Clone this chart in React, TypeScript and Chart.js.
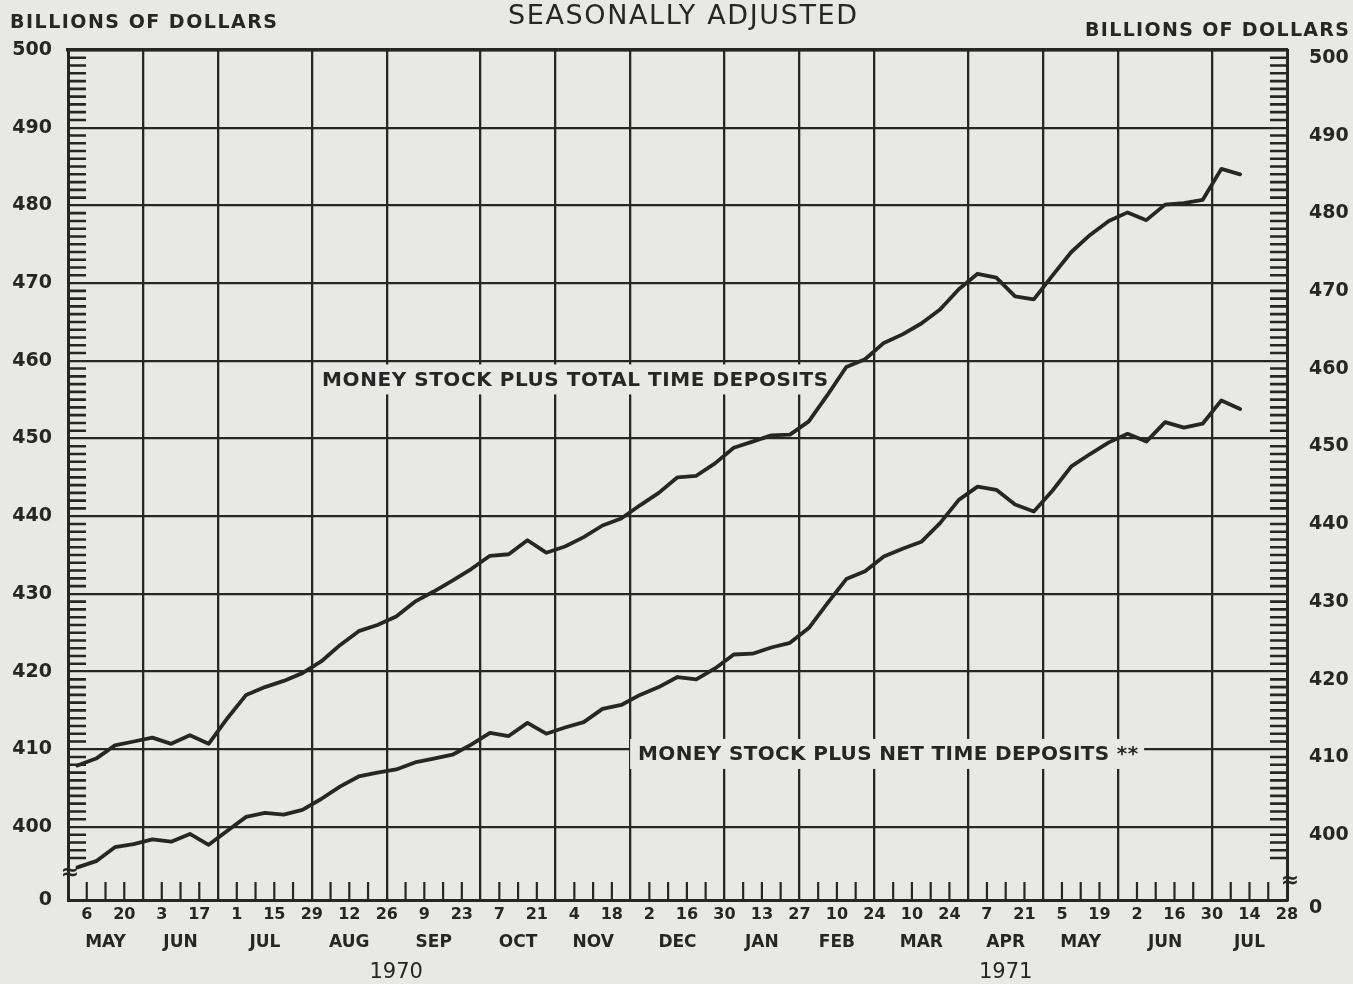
import React, { useEffect, useRef } from 'react';
import { Chart, registerables } from 'chart.js';

Chart.register(...registerables);

// ---------- data ----------
// week-ending dates (Wednesdays) from Apr 29 1970 to Jul 28 1971, one entry per axis week
const weekDayLabels = [
  '29', '6', '13', '20', '27', '3', '10', '17', '24', '1', '8', '15', '22', '29',
  '5', '12', '19', '26', '2', '9', '16', '23', '30', '7', '14', '21', '28',
  '4', '11', '18', '25', '2', '9', '16', '23', '30', '6', '13', '20', '27',
  '3', '10', '17', '24', '3', '10', '17', '24', '31', '7', '14', '21', '28',
  '5', '12', '19', '26', '2', '9', '16', '23', '30', '7', '14', '21', '28',
];
// index (into weekDayLabels) of the last week of each month: Apr 1970 ... Jul 1971
const monthEndWeeks = [0, 4, 8, 13, 17, 22, 26, 30, 35, 39, 43, 48, 52, 56, 61, 65];
const monthNames = ['MAY', 'JUN', 'JUL', 'AUG', 'SEP', 'OCT', 'NOV', 'DEC', 'JAN', 'FEB', 'MAR', 'APR', 'MAY', 'JUN', 'JUL'];
const yearNames = ['1970', '1971'];
const yearEndWeeks = [0, 35, 65];
const yTickValues = [400, 410, 420, 430, 440, 450, 460, 470, 480, 490, 500];
const BREAK_LABEL = '0';

const seriesNames = ['MONEY STOCK PLUS TOTAL TIME DEPOSITS', 'MONEY STOCK PLUS NET TIME DEPOSITS **'];

// billions of dollars, weekly averages
const totalTimeDeposits = [
  407.9, 408.8, 410.5, 411.0, 411.5, 410.7, 411.8, 410.7, 414.0, 417.0,
  418.0, 418.8, 419.8, 421.3, 423.4, 425.2, 426.0, 427.1, 429.0, 430.3,
  431.7, 433.2, 434.9, 435.1, 436.9, 435.3, 436.1, 437.3, 438.8, 439.7,
  441.4, 443.0, 445.0, 445.2, 446.8, 448.8, 449.6, 450.4, 450.5, 452.2,
  455.6, 459.2, 460.2, 462.3, 463.4, 464.8, 466.6, 469.2, 471.2, 470.7,
  468.3, 467.9, 471.0, 474.0, 476.2, 478.0, 479.1, 478.1, 480.1, 480.3,
  480.7, 484.7, 484.0,
];
const netTimeDeposits = [
  394.8, 395.6, 397.4, 397.8, 398.4, 398.1, 399.1, 397.7, 399.5, 401.3,
  401.8, 401.6, 402.2, 403.6, 405.2, 406.5, 407.0, 407.4, 408.3, 408.8,
  409.3, 410.6, 412.1, 411.7, 413.4, 412.0, 412.8, 413.5, 415.2, 415.7,
  417.0, 418.0, 419.3, 419.0, 420.4, 422.2, 422.3, 423.1, 423.7, 425.6,
  428.8, 431.9, 432.9, 434.8, 435.8, 436.7, 439.1, 442.1, 443.8, 443.4,
  441.5, 440.6, 443.3, 446.4, 448.0, 449.5, 450.6, 449.6, 452.1, 451.4,
  451.9, 454.9, 453.8,
];

// ---------- styling ----------
const BG = '#e8e8e6';
const INK = '#262626';
const FONT = '"DejaVu Sans", "Noto Sans", sans-serif';
const Y_MIN = 390.6; // broken axis: the bottom line stands for zero
const Y_MAX = 500;

const monthCenters = monthNames.map((_, i) => (monthEndWeeks[i] + monthEndWeeks[i + 1]) / 2);
const yearCenters = yearNames.map((_, i) => (yearEndWeeks[i] + yearEndWeeks[i + 1]) / 2);
const toPoints = (vals: number[]) => vals.map((v, i) => ({ x: i + 0.5, y: v }));

function drawFitted(ctx: CanvasRenderingContext2D, text: string, x: number, y: number, width: number, font: string) {
  ctx.font = font;
  (ctx as any).letterSpacing = '0px';
  const w0 = ctx.measureText(text).width;
  const sp = (width - w0) / Math.max(1, text.length - 1);
  (ctx as any).letterSpacing = sp + 'px';
  ctx.textAlign = 'left';
  ctx.textBaseline = 'middle';
  ctx.fillText(text, x, y);
  (ctx as any).letterSpacing = '0px';
}

const decorPlugin = {
  id: 'decor',
  beforeDraw(chart: any) {
    const { ctx, width, height } = chart;
    ctx.save();
    ctx.fillStyle = BG;
    ctx.fillRect(0, 0, width, height);
    ctx.restore();
  },
  beforeDatasetsDraw(chart: any) {
    const { ctx, chartArea: a, scales } = chart;
    const xs = scales.x;
    const ys = scales.y;
    ctx.save();
    ctx.strokeStyle = INK;
    ctx.lineWidth = 2.6;
    // unit ticks along left and right edges
    for (let v = 396; v < 500; v++) {
      if (v % 10 === 0) continue;
      const py = ys.getPixelForValue(v);
      ctx.beginPath();
      ctx.moveTo(a.left, py);
      ctx.lineTo(a.left + 18, py);
      ctx.moveTo(a.right - 17, py);
      ctx.lineTo(a.right, py);
      ctx.stroke();
    }
    // weekly ticks along the bottom
    ctx.lineWidth = 2.2;
    for (let i = 1; i < weekDayLabels.length - 1; i++) {
      if (monthEndWeeks.includes(i)) continue;
      const px = xs.getPixelForValue(i);
      ctx.beginPath();
      ctx.moveTo(px, a.bottom);
      ctx.lineTo(px, a.bottom - 18);
      ctx.stroke();
    }
    // series labels on paper-coloured boxes
    const labels = [
      { text: seriesNames[0], x: 13.55, y: 457.6, w: 506 },
      { text: seriesNames[1], x: 30.4, y: 409.4, w: 500 },
    ];
    for (const l of labels) {
      const px = xs.getPixelForValue(l.x);
      const py = ys.getPixelForValue(l.y);
      ctx.fillStyle = BG;
      ctx.fillRect(px - 8, py - 15, l.w + 14, 30);
      ctx.fillStyle = INK;
      drawFitted(ctx, l.text, px, py + 1, l.w, `bold 20px ${FONT}`);
    }
    ctx.restore();
  },
  afterDraw(chart: any) {
    const { ctx, chartArea: a, scales } = chart;
    const ys = scales.y;
    ctx.save();
    ctx.fillStyle = INK;
    // axis-break marks
    ctx.font = `bold 22px ${FONT}`;
    ctx.textAlign = 'center';
    ctx.textBaseline = 'middle';
    ctx.fillText('\u2248', a.left + 2, ys.getPixelForValue(394.1));
    ctx.fillText('\u2248', a.right + 3, ys.getPixelForValue(393.0));
    // headings
    drawFitted(ctx, 'SEASONALLY ADJUSTED', 508, 17, 349, `27px ${FONT}`);
    drawFitted(ctx, 'BILLIONS OF DOLLARS', 10, 23, 267, `bold 19px ${FONT}`);
    drawFitted(ctx, 'BILLIONS OF DOLLARS', 1085, 31, 264, `bold 19px ${FONT}`);
    ctx.restore();
  },
};

export default function App() {
  const ref = useRef<HTMLCanvasElement>(null);

  useEffect(() => {
    document.body.style.margin = '0';
    document.body.style.background = BG;
    const canvas = ref.current!;
    const chart = new Chart(canvas, {
      type: 'line',
      data: {
        datasets: [
          {
            label: seriesNames[0],
            data: toPoints(totalTimeDeposits),
            borderColor: INK,
            borderWidth: 3.8,
            pointRadius: 0,
            fill: false,
            tension: 0,
            borderJoinStyle: 'round',
            borderCapStyle: 'round',
            xAxisID: 'x',
            yAxisID: 'y',
          },
          {
            label: seriesNames[1],
            data: toPoints(netTimeDeposits),
            borderColor: INK,
            borderWidth: 3.8,
            pointRadius: 0,
            fill: false,
            tension: 0,
            borderJoinStyle: 'round',
            borderCapStyle: 'round',
            xAxisID: 'x',
            yAxisID: 'y',
          },
        ],
      },
      options: {
        responsive: false,
        animation: false,
        devicePixelRatio: 1,
        layout: { padding: { top: 50, left: 0, right: 0, bottom: 0 } },
        plugins: {
          legend: { display: false },
          tooltip: { enabled: false },
          title: { display: false },
        },
        scales: {
          x: {
            type: 'linear',
            position: 'bottom',
            weight: 0,
            min: 0,
            max: weekDayLabels.length - 1,
            afterBuildTicks: (s: any) => {
              s.ticks = weekDayLabels.map((_, i) => ({ value: i }));
            },
            afterFit: (s: any) => {
              s.height = 26;
            },
            ticks: {
              autoSkip: false,
              maxRotation: 0,
              minRotation: 0,
              padding: 5,
              color: INK,
              font: { family: FONT, size: 16, weight: 'bold' },
              callback: (v: any) => (v % 2 === 1 ? weekDayLabels[v] : ''),
            },
            grid: {
              drawTicks: false,
              lineWidth: 2.3,
              color: (c: any) =>
                c.tick && monthEndWeeks.includes(c.tick.value) && c.tick.value > 0 && c.tick.value < 65 ? INK : 'rgba(0,0,0,0)',
            },
            border: { color: INK, width: 3 },
          },
          xm: {
            type: 'linear',
            position: 'bottom',
            weight: 1,
            min: 0,
            max: weekDayLabels.length - 1,
            afterBuildTicks: (s: any) => {
              s.ticks = monthCenters.map((value) => ({ value }));
            },
            afterFit: (s: any) => {
              s.height = 28;
            },
            ticks: {
              autoSkip: false,
              maxRotation: 0,
              minRotation: 0,
              padding: 6,
              color: INK,
              font: { family: FONT, size: 17, weight: 'bold' },
              callback: (_v: any, i: number) => monthNames[i],
            },
            grid: { display: false, drawTicks: false },
            border: { display: false },
          },
          xy: {
            type: 'linear',
            position: 'bottom',
            weight: 2,
            min: 0,
            max: weekDayLabels.length - 1,
            afterBuildTicks: (s: any) => {
              s.ticks = yearCenters.map((value) => ({ value }));
            },
            afterFit: (s: any) => {
              s.height = 30;
            },
            ticks: {
              autoSkip: false,
              maxRotation: 0,
              minRotation: 0,
              padding: 6,
              color: INK,
              font: { family: FONT, size: 21 },
              callback: (_v: any, i: number) => yearNames[i],
            },
            grid: { display: false, drawTicks: false },
            border: { display: false },
          },
          xt: {
            type: 'linear',
            position: 'top',
            min: 0,
            max: weekDayLabels.length - 1,
            afterFit: (s: any) => {
              s.height = 0;
            },
            ticks: { display: false },
            grid: { display: false, drawTicks: false },
            border: { color: INK, width: 3.5 },
          },
          y: {
            type: 'linear',
            position: 'left',
            min: Y_MIN,
            max: Y_MAX,
            afterBuildTicks: (s: any) => {
              s.ticks = [Y_MIN, ...yTickValues].map((value) => ({ value }));
            },
            afterFit: (s: any) => {
              s.width = 68;
            },
            ticks: {
              padding: 16,
              color: INK,
              font: { family: FONT, size: 19, weight: 'bold' },
              callback: (v: any) => (v === Y_MIN ? BREAK_LABEL : String(v)),
            },
            grid: {
              drawTicks: false,
              lineWidth: 2.3,
              color: (c: any) => (c.tick && c.tick.value > Y_MIN ? INK : 'rgba(0,0,0,0)'),
            },
            border: { color: INK, width: 3 },
          },
          y2: {
            type: 'linear',
            position: 'right',
            min: Y_MIN,
            max: Y_MAX,
            afterBuildTicks: (s: any) => {
              s.ticks = [Y_MIN, ...yTickValues].map((value) => ({ value }));
            },
            afterFit: (s: any) => {
              s.width = 66;
            },
            ticks: {
              padding: 22,
              labelOffset: 8,
              color: INK,
              font: { family: FONT, size: 19, weight: 'bold' },
              callback: (v: any) => (v === Y_MIN ? BREAK_LABEL : String(v)),
            },
            grid: { drawOnChartArea: false, drawTicks: false },
            border: { color: INK, width: 3 },
          },
        },
      } as any,
      plugins: [decorPlugin],
    });
    return () => chart.destroy();
  }, []);

  return <canvas ref={ref} width={1353} height={984} style={{ display: 'block' }} />;
}
